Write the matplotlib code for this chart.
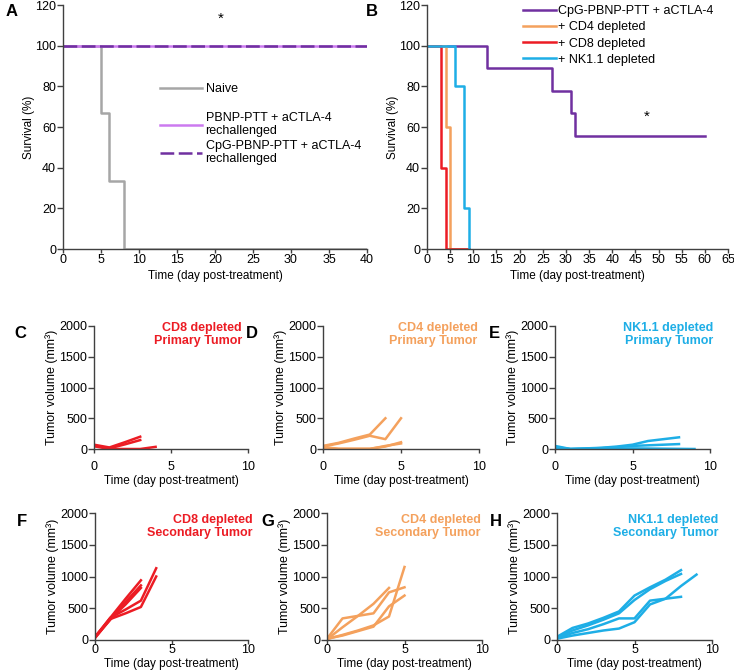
import numpy as np
import matplotlib
matplotlib.use("Agg")
import matplotlib.pyplot as plt

plt.rcParams['font.family'] = ['Liberation Sans', 'DejaVu Sans']
plt.rcParams['font.size'] = 9

# colours
gray = '#a6a6a6'
lpurple = '#cc7af0'
dpurple = '#7030a0'
orange = '#f4a15d'
red = '#ec1c24'
blue = '#1eaee6'

# --- panel A: survival after rechallenge ---
naive_t = [0, 5, 6, 8, 40]
naive_s = [100, 66.7, 33.3, 0, 0]
pbnp_t = [0, 40]
pbnp_s = [100, 100]
cpg_re_t = [0, 40]
cpg_re_s = [100, 100]

# --- panel B: survival with depletion ---
cpg_t = [0, 13, 27, 31, 32, 60]
cpg_s = [100, 88.9, 77.8, 66.7, 55.6, 55.6]
cd4_t = [0, 4, 5, 9]
cd4_s = [100, 60, 0, 0]
cd8_t = [0, 3, 4, 9]
cd8_s = [100, 40, 0, 0]
nk_t = [0, 6, 8, 9]
nk_s = [100, 80, 20, 0]

# --- tumour growth curves (day, volume) ---
cd8_primary = [
    ([0, 1, 2, 3], [70, 25, 110, 200]),
    ([0, 1, 2, 3], [55, 10, 75, 145]),
    ([0, 1, 2, 3, 4], [45, 0, 0, 0, 35]),
]
cd4_primary = [
    ([0, 1, 2, 3, 4], [50, 100, 170, 235, 500]),
    ([0, 1, 2, 3, 4, 5], [40, 90, 150, 215, 160, 500]),
    ([0, 1, 2, 3, 4, 5], [30, 5, 5, 5, 40, 110]),
    ([0, 1, 2, 3, 4, 5], [20, 0, 0, 0, 50, 90]),
]
nk_primary = [
    ([0, 1, 2, 3, 4, 5, 6, 7, 8], [50, 0, 10, 20, 40, 70, 130, 160, 190]),
    ([0, 1, 2, 3, 4, 5, 6, 7, 8], [30, 0, 5, 15, 30, 50, 60, 70, 80]),
    ([0, 1, 3, 5, 7, 9], [10, 0, 5, 10, 5, 0]),
]
cd8_secondary = [
    ([0, 1, 2, 3], [50, 350, 650, 940]),
    ([0, 1, 2, 3], [40, 320, 600, 860]),
    ([0, 1, 2, 3], [30, 330, 560, 820]),
    ([0, 1, 2, 3, 4], [40, 350, 480, 620, 1130]),
    ([0, 1, 2, 3, 4], [50, 330, 420, 520, 1000]),
]
cd4_secondary = [
    ([0, 1, 2, 3, 4, 5], [20, 340, 380, 420, 750, 830]),
    ([0, 1, 2, 3, 4], [10, 200, 380, 570, 820]),
    ([0, 1, 2, 3, 4, 5], [15, 80, 150, 230, 370, 1150]),
    ([0, 1, 2, 3, 4, 5], [20, 70, 140, 210, 530, 700]),
]
nk_secondary = [
    ([0, 1, 2, 3, 4, 5, 6, 7, 8], [50, 190, 260, 350, 450, 700, 830, 950, 1100]),
    ([0, 1, 2, 3, 4, 5, 6, 7, 8], [40, 150, 230, 320, 420, 630, 800, 930, 1040]),
    ([0, 1, 2, 3, 4, 5, 6, 8], [30, 110, 170, 250, 340, 340, 620, 680]),
    ([0, 1, 2, 3, 4, 5, 6, 7, 8, 9], [20, 70, 110, 150, 180, 280, 560, 650, 850, 1030]),
]

W, H = 734, 671
fig = plt.figure(figsize=(W / 100, H / 100), dpi=100)


def rect(x0, y0, x1, y1):
    # pixel box -> figure fraction
    return [x0 / W, 1 - y1 / H, (x1 - x0) / W, (y1 - y0) / H]


def style(ax, xpad=0.5):
    for s in ['top', 'right']:
        ax.spines[s].set_visible(False)
    for s in ['left', 'bottom']:
        ax.spines[s].set_color('#404040')
        ax.spines[s].set_linewidth(1.0)
    ax.tick_params(axis='y', direction='out', length=4, pad=1, width=1, color='#404040', labelsize=9)
    ax.tick_params(axis='x', direction='out', length=3, pad=xpad, width=1, color='#404040', labelsize=9)


# A
axA = fig.add_axes(rect(63, 5, 367, 249))
hA1, = axA.step(naive_t, naive_s, where='post', color=gray, lw=1.8)
hA2, = axA.step(pbnp_t, pbnp_s, where='post', color=lpurple, lw=1.8)
hA3, = axA.step(cpg_re_t, cpg_re_s, where='post', color=dpurple, lw=1.8, dashes=(5.5, 1.8))
axA.set_xlim(0, 40)
axA.set_ylim(0, 120)
axA.set_xticks(np.arange(0, 41, 5))
axA.set_yticks(np.arange(0, 121, 20))
axA.set_xlabel('Time (day post-treatment)', labelpad=3, fontsize=8.5)
axA.set_ylabel('Survival (%)', labelpad=0, fontsize=8.5)
axA.text(20.7, 113, '*', ha='center', va='center', fontsize=11)
style(axA)
legA1 = axA.legend([hA1], ['Naive'], loc='upper left', bbox_to_anchor=(0.319, 0.679),
                   frameon=False, handlelength=3.4, handletextpad=0.25, borderpad=0,
                   borderaxespad=0, fontsize=9)
axA.add_artist(legA1)
legA2 = axA.legend([hA2, hA3], ['PBNP-PTT + aCTLA-4\nrechallenged',
                                'CpG-PBNP-PTT + aCTLA-4\nrechallenged'],
                   loc='upper left', bbox_to_anchor=(0.319, 0.56), frameon=False,
                   handlelength=3.4, handletextpad=0.25, borderpad=0, borderaxespad=0,
                   labelspacing=0.2, fontsize=9)
for t in legA2.get_texts():
    t.set_linespacing(1.12)

# B
axB = fig.add_axes(rect(427, 5, 728, 249))
axB.step(cpg_t, cpg_s, where='post', color=dpurple, lw=1.8, label='CpG-PBNP-PTT + aCTLA-4')
axB.step(cd4_t, cd4_s, where='post', color=orange, lw=1.8, label='+ CD4 depleted')
axB.step(cd8_t, cd8_s, where='post', color=red, lw=1.8, label='+ CD8 depleted')
axB.step(nk_t, nk_s, where='post', color=blue, lw=1.8, label='+ NK1.1 depleted')
axB.set_xlim(0, 65)
axB.set_ylim(0, 120)
axB.set_xticks(np.arange(0, 66, 5))
axB.set_yticks(np.arange(0, 121, 20))
axB.set_xlabel('Time (day post-treatment)', labelpad=3, fontsize=8.5)
axB.set_ylabel('Survival (%)', labelpad=0, fontsize=8.5)
axB.text(47.5, 65, '*', ha='center', va='center', fontsize=11)
style(axB)
axB.legend(loc='upper left', bbox_to_anchor=(0.319, 1.0), frameon=False, handlelength=2.65,
           handletextpad=0.15, labelspacing=0.34, borderpad=0, borderaxespad=0, fontsize=9)

fig.text(12 / W, 1 - 12 / H, 'A', fontsize=12, fontweight='bold', ha='center', va='center')
fig.text(372 / W, 1 - 12 / H, 'B', fontsize=12, fontweight='bold', ha='center', va='center')

# tumour panels: data, colour, title, box, letter, letter pos, title x, title y, row
panels = [
    (cd8_primary, red, 'CD8 depleted\nPrimary Tumor', rect(94, 326, 248, 449), 'C', (20, 333), 0.96, 1.03, 1),
    (cd4_primary, orange, 'CD4 depleted\nPrimary Tumor', rect(323, 326, 479, 449), 'D', (252, 333), 0.99, 1.03, 1),
    (nk_primary, blue, 'NK1.1 depleted\nPrimary Tumor', rect(555, 326, 710, 449), 'E', (494, 333), 1.02, 1.03, 1),
    (cd8_secondary, red, 'CD8 depleted\nSecondary Tumor', rect(95, 513, 248, 640), 'F', (22, 521), 1.03, 0.99, 2),
    (cd4_secondary, orange, 'CD4 depleted\nSecondary Tumor', rect(327, 513, 482, 640), 'G', (268, 521), 0.99, 0.99, 2),
    (nk_secondary, blue, 'NK1.1 depleted\nSecondary Tumor', rect(557, 513, 712, 640), 'H', (496, 521), 1.04, 0.99, 2),
]
for curves, col, title, r, letter, lpos, tx, ty, row in panels:
    ax = fig.add_axes(r)
    for d, v in curves:
        ax.plot(d, v, color=col, lw=1.8, solid_joinstyle='round')
    ax.set_xlim(0, 10)
    ax.set_ylim(0, 2000)
    ax.set_xticks([0, 5, 10])
    ax.set_yticks(np.arange(0, 2001, 500))
    ax.set_xlabel('Time (day post-treatment)', labelpad=1, fontsize=8.5)
    ax.set_ylabel('Tumor volume (mm³)', labelpad=1, fontsize=9)
    style(ax, xpad=6 if row == 1 else 0)
    ax.text(tx, ty, title, transform=ax.transAxes, ha='right', va='top', color=col,
            fontweight='bold', fontsize=9, linespacing=1.1)
    fig.text(lpos[0] / W, 1 - lpos[1] / H, letter, fontsize=12, fontweight='bold',
             ha='center', va='center')

fig.savefig('out.png', dpi=100)
